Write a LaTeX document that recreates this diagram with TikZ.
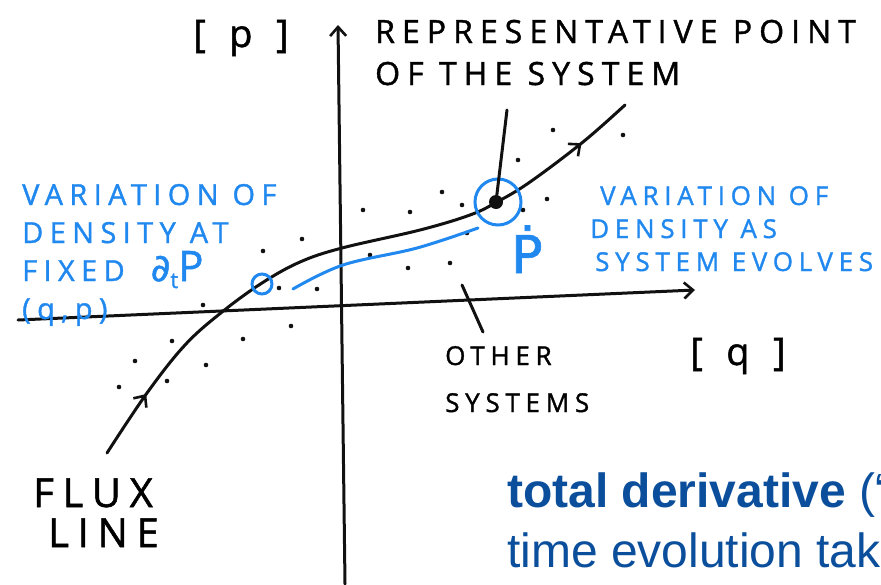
\documentclass[tikz,border=0pt]{standalone}
\usepackage{fontspec}
\setsansfont{Liberation Sans}
\newfontfamily\handfont[LetterSpace=22,FakeBold=1.3]{Open Sans}
\newfontfamily\bracketfont[LetterSpace=62,FakeBold=1.3]{Open Sans}
\newfontfamily\symbfont[FakeBold=1.3]{DejaVu Sans}
\usetikzlibrary{positioning,calc,arrows.meta,decorations.markings}
\definecolor{Ink}{HTML}{111111}
\definecolor{Marker}{HTML}{2088EE}
\definecolor{Slide}{HTML}{0B4F9C}

\begin{document}
\begin{tikzpicture}[
			x=1pt,y=-1pt,
			ink/.style={draw=Ink,line width=3pt,line cap=round,line join=round},
			pen/.style={draw=Marker,line width=3pt,line cap=round},
			hand/.style={inner sep=0pt,anchor=base west,align=left},
			barb/.style={-{Straight Barb[length=9pt,width=16pt,line width=2.6pt]}}
			]
			\useasboundingbox (0,0) rectangle (881,584);
			
			% Axes
			\coordinate (qstart) at (18,320);
			\coordinate (qend) at (695,290);
			\coordinate (pstart) at (345,584);
			\coordinate (pend) at (338,25);
			\draw[ink,barb] (qstart) -- (qend);
			\draw[ink,barb] (pstart) -- (pend);
			
			\node[
			hand,
			font=\bracketfont\fontsize{38}{40}\selectfont
			]
			(plabel) at (193,47)
			{[p]};
			
			\node[
			hand,
			font=\bracketfont\fontsize{38}{40}\selectfont
			]
			(qlabel) at (690,365)
			{[q]};
			
			% Flux line
			\draw[
			ink,
			postaction={decorate},
			decoration={markings,
				mark=at position 0.11 with {\arrow{Straight Barb[length=9pt,width=16pt,line width=2.6pt]}},
				mark=at position 0.91 with {\arrow{Straight Barb[length=9pt,width=16pt,line width=2.6pt]}}}
			]
			plot[smooth,tension=0.6] coordinates {(107,453) (147,393) (185,345) (222,312) (262,283) (300,262) (342,248) (420,230) (470,215) (497,202) (530,182) (583,142) (625,105)};
			
			% Other systems
			\foreach \dx/\dy in {203/305,172/341,135/361,119/387,167/381,206/365,243/339,291/326,
				279/288,317/289,263/251,302/239,363/210,410/212,442/192,462/205,518/160,553/130,
				623/135,547/199,523/210,370/255,408/268,450/263,467/233}
			\fill[Ink] (\dx,\dy) circle (2.3);
			
			% Representative point
			\node[circle,fill=Ink,inner sep=0pt,minimum size=14pt] (rep) at (496,202) {};
			\node[circle,draw=Marker,line width=3pt,minimum size=46pt] (ring) at (498,202) {};
			\node[circle,draw=Marker,line width=3pt,minimum size=20pt] (fixring) at (262,284) {};
			
			\coordinate (trailstart) at (293,289);
			\coordinate (trailend) at (478,228);
			\draw[pen] plot[smooth,tension=0.6] coordinates {(trailstart) (343,265) (417,248) (trailend)};
			
			\node[
			hand,
			font=\handfont\fontsize{32}{42}\selectfont
			]
			(reptext) at (375,85)
			{REPRESENTATIVE POINT\\OF THE SYSTEM};
			
			\coordinate (reptip) at (507,110);
			\draw[ink] (reptip) -- (rep);
			
			\node[
			hand,
			text=Marker,
			font=\symbfont\fontsize{52}{52}\selectfont
			]
			(pdot) at (511,273)
			{Ṗ};
			
			% Fixed point label
			\node[
			hand,
			text=Marker,
			font=\handfont\fontsize{29}{38}\selectfont
			]
			(fixedlbl) at (22,319)
			{VARIATION OF\\DENSITY AT\\FIXED\hspace{26pt}{\symbfont\fontsize{38}{38}\selectfont ∂}\raisebox{-7pt}{\fontsize{22}{22}\selectfont t}{\fontsize{42}{42}\selectfont P}\\(q,p)};
			
			% Moving point label
			\node[
			hand,
			text=Marker,
			font=\handfont\fontsize{26}{33}\selectfont
			]
			(evolvelbl) at (590,271)
			{\hspace*{10pt}VARIATION OF\\DENSITY AS\\\hspace*{5pt}SYSTEM EVOLVES};
			
			% Other systems label
			\node[
			hand,
			font=\handfont\fontsize{26}{47}\selectfont
			]
			(others) at (445,412)
			{OTHER\\SYSTEMS};
			
			\coordinate (otherptr) at (462,285);
			\draw[ink] (otherptr) -- (483,332);
			
			% Flux line label
			\node[
			hand,
			font=\handfont\fontsize{40}{40}\selectfont
			]
			(fluxlbl) at (33,547)
			{FLUX\\\hspace*{15pt}LINE};
			
			% Slide text
			\begin{scope}
				\clip (0,0) rectangle (881,584);
				\node[
				hand,
				text=Slide,
				font=\sffamily\fontsize{48}{60}\selectfont
				]
				(slide) at (507,567)
				{{\bfseries total derivative} (“\\time evolution tak};
			\end{scope}
			
		\end{tikzpicture}
\end{document}
